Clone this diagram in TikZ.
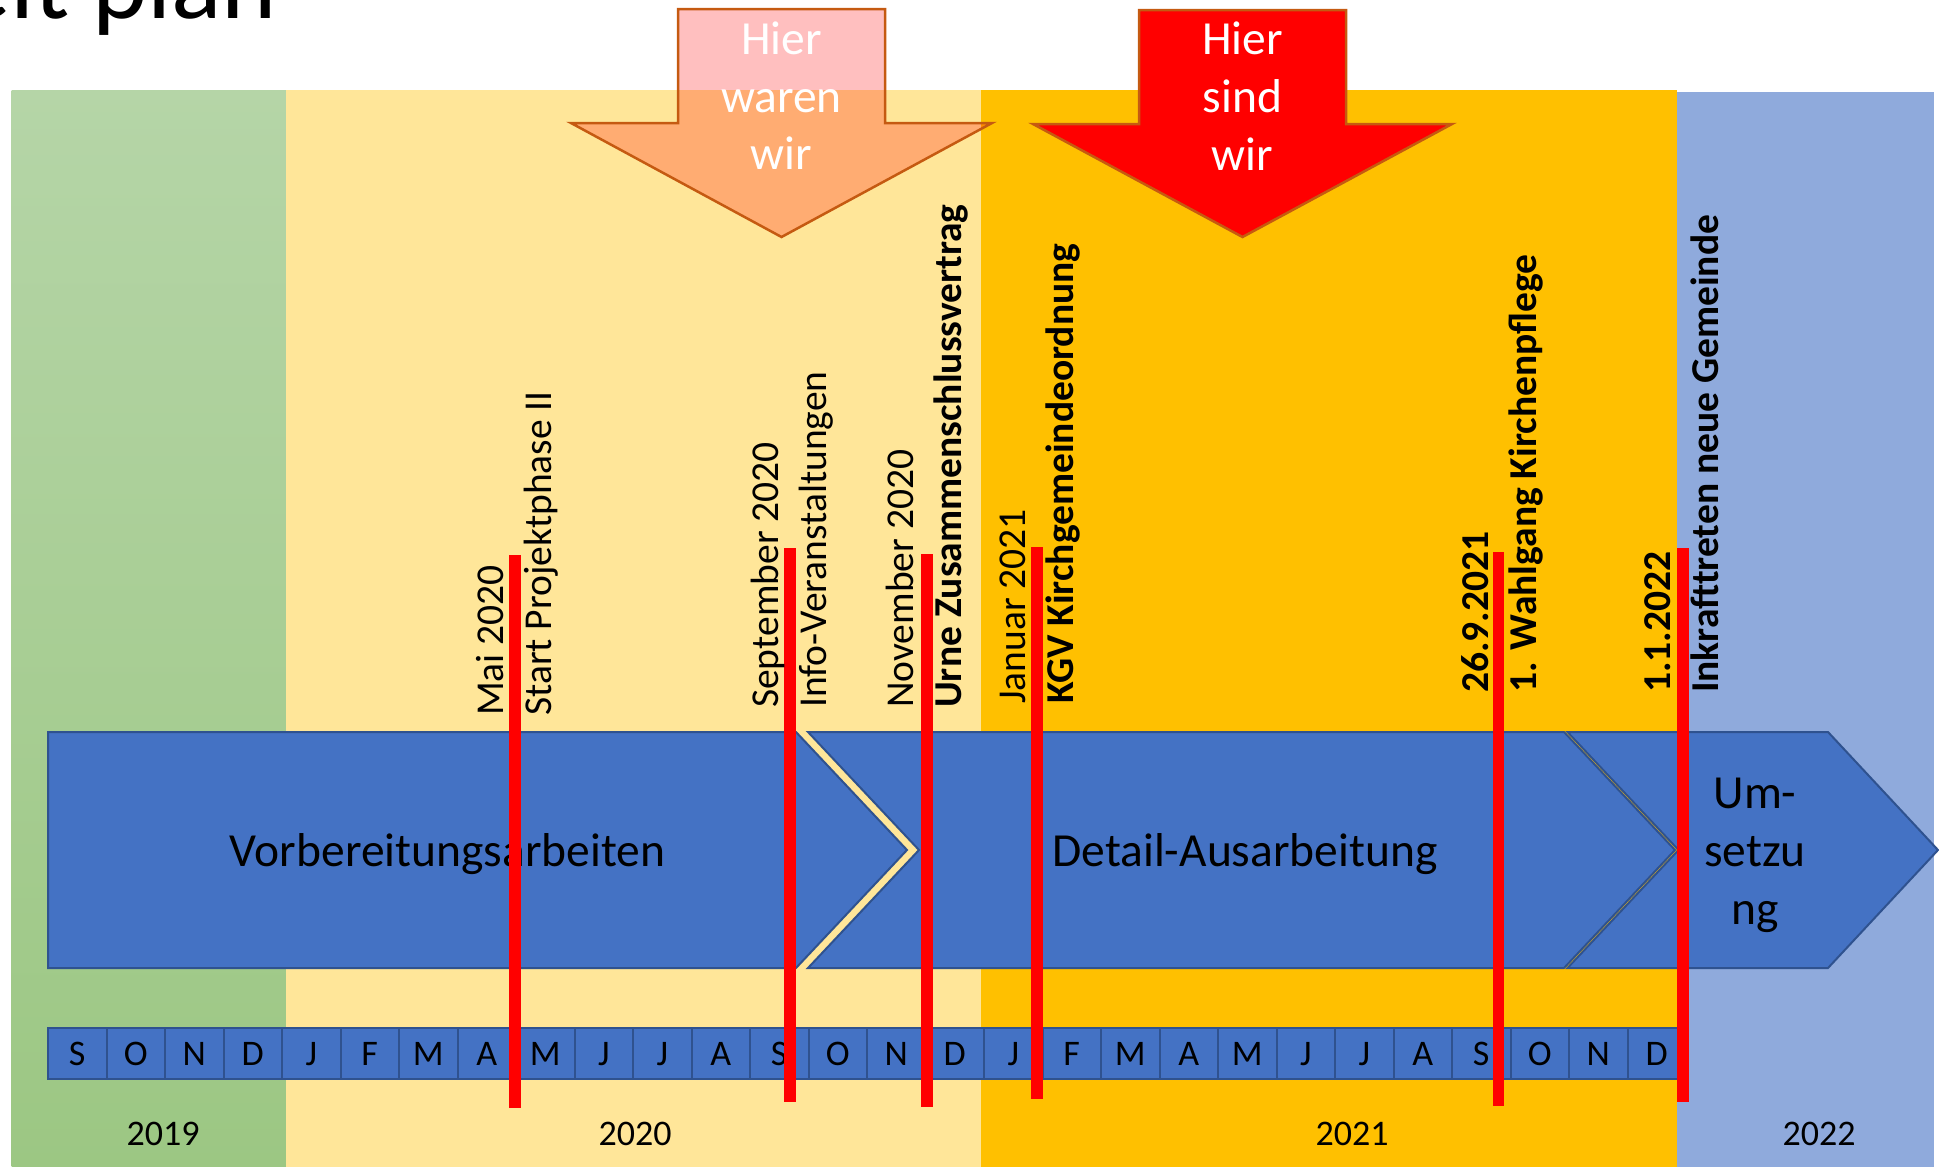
\documentclass[tikz,border=0pt]{standalone}
\usepackage{fontspec}
\setmainfont{Carlito}
\definecolor{pgreenT}{RGB}{181,213,167}
\definecolor{pgreenB}{RGB}{156,199,131}
\definecolor{pyellow}{RGB}{255,230,153}
\definecolor{pgold}{RGB}{255,192,0}
\definecolor{pblue}{RGB}{143,170,220}
\definecolor{shapefill}{RGB}{68,114,196}
\definecolor{shapeline}{RGB}{47,82,143}
\definecolor{arrowline}{RGB}{197,90,17}
\definecolor{mred}{RGB}{255,0,0}
\tikzset{
  bigtext/.style={font=\fontsize{47.5}{58}\selectfont, inner sep=0pt, text=black, anchor=base},
  arrowtext/.style={font=\fontsize{47.5}{58}\selectfont, inner sep=0pt, text=white, anchor=base},
  lbl/.style={font=\fontsize{39.5}{48}\selectfont, rotate=90, anchor=base west, inner sep=0pt},
  lblb/.style={lbl, font=\fontsize{39.5}{48}\selectfont\bfseries},
  monthbox/.style={draw=shapeline, fill=shapefill, line width=2pt, minimum width=58.5pt,
    minimum height=51pt, inner sep=0pt, font=\fontsize{36}{40}\selectfont,
    text height=23pt, text depth=0pt},
  yeartext/.style={font=\fontsize{36}{40}\selectfont, anchor=base, inner sep=0pt},
  phase/.style={draw=shapeline, fill=shapefill, line width=2pt, line join=miter},
  milestone/.style={draw=mred, line width=11.5pt},
  hint/.style={draw=arrowline, line width=2.5pt, line join=miter},
}
\begin{document}
\begin{tikzpicture}[x=1pt,y=-1pt]
\useasboundingbox (0,0) rectangle (1939,1167);
% title
\node[anchor=base east, inner sep=0pt, font=\fontsize{105}{125}\selectfont] (title) at (277,18) {Zeit\kern22pt plan};
% background panels
\shade[top color=pgreenT, bottom color=pgreenB] (11.5,90) rectangle (286,1167);
\fill[pyellow] (286,90) rectangle (981,1167);
\fill[pgold] (981,90) rectangle (1677,1167);
\fill[pblue] (1677,92) rectangle (1934,1167);
% hint arrows
\draw[hint, fill=mred, fill opacity=0.25] (678,9) -- (885,9) -- (885,123) -- (992,123) -- (781.5,237) -- (571,123) -- (678,123) -- cycle;
\draw[hint, fill=mred] (1139,10) -- (1346,10) -- (1346,124) -- (1452,124) -- (1242.5,237) -- (1033,124) -- (1139,124) -- cycle;
\node[arrowtext] (a1l1) at (781.5,54) {Hier};
\node[arrowtext] (a1l2) at (781.5,112) {waren};
\node[arrowtext] (a1l3) at (781.5,169) {wir};
\node[arrowtext] (a2l1) at (1242.5,54) {Hier};
\node[arrowtext] (a2l2) at (1242.5,112) {sind};
\node[arrowtext] (a2l3) at (1242.5,170) {wir};
% phase shapes
\draw[phase] (48,732) -- (796,732) -- (907,850) -- (796,968) -- (48,968) -- cycle;
\draw[phase] (808,732) -- (1564,732) -- (1675,850) -- (1564,968) -- (808,968) -- (919,850) -- cycle;
\draw[phase] (1567.5,732) -- (1828,732) -- (1938,850) -- (1828,968) -- (1567.5,968) -- (1678.5,850) -- cycle;
\node[bigtext] (vorb) at (447.5,866) {Vorbereitungsarbeiten};
\node[bigtext] (detail) at (1245,866) {Detail-Ausarbeitung};
\node[bigtext] (um1) at (1755,808) {Um-};
\node[bigtext] (um2) at (1755,866) {setzu};
\node[bigtext] (um3) at (1755,924) {ng};
% month boxes
\foreach \m [count=\i from 0] in {S,O,N,D,J,F,M,A,M,J,J,A,S,O,N,D,J,F,M,A,M,J,J,A,S,O,N,D}
  \node[monthbox] (m\i) at (77.25+58.5*\i,1053.5) {\m};
% years
\node[yeartext] (y2019) at (163,1145) {2019};
\node[yeartext] (y2020) at (635,1145) {2020};
\node[yeartext] (y2021) at (1352,1145) {2021};
\node[yeartext] (y2022) at (1819,1145) {2022};
% milestone lines
\coordinate (r1t) at (515,555);   \coordinate (r1b) at (515,1108);
\coordinate (r2t) at (790,548);   \coordinate (r2b) at (790,1102);
\coordinate (r3t) at (927,554);   \coordinate (r3b) at (927,1107);
\coordinate (r4t) at (1037,547);  \coordinate (r4b) at (1037,1099);
\coordinate (r5t) at (1498.5,552);\coordinate (r5b) at (1498.5,1106);
\coordinate (r6t) at (1683,548);  \coordinate (r6b) at (1683,1102);
\foreach \k in {1,...,6} \draw[milestone] (r\k t) -- (r\k b);
% milestone labels
\node[lbl] (l1a) at (503,716) {Mai 2020};
\node[lbl] (l1b) at (551.5,716) {Start Projektphase II};
\node[lbl] (l2a) at (778,708) {September 2020};
\node[lbl] (l2b) at (826.5,708) {Info-Veranstaltungen};
\node[lbl] (l3a) at (913,708) {November 2020};
\node[lblb] (l3b) at (961.5,708) {Urne Zusammenschlussvertrag};
\node[lbl] (l4a) at (1025,704) {Januar 2021};
\node[lblb] (l4b) at (1073.5,704) {KGV Kirchgemeindeordnung};
\node[lblb] (l5a) at (1488,693) {26.9.2021};
\node[lblb] (l5b) at (1536.5,693) {1. Wahlgang Kirchenpflege};
\node[lblb] (l6a) at (1670,693) {1.1.2022};
\node[lblb] (l6b) at (1718.5,693) {Inkrafttreten neue Gemeinde};
\end{tikzpicture}
\end{document}
